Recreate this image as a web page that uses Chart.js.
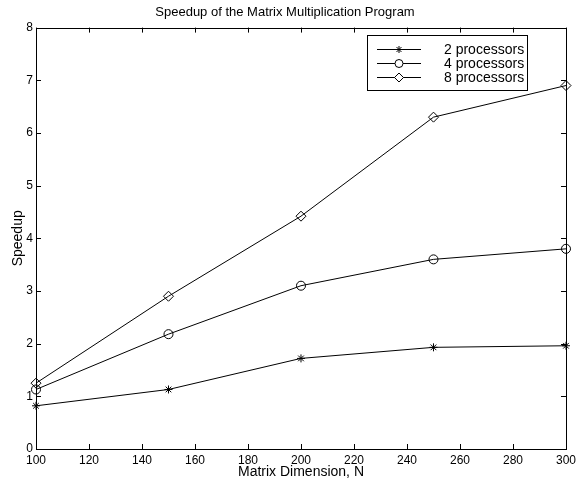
<!DOCTYPE html>
<html><head><meta charset="utf-8">
<script src="https://cdn.jsdelivr.net/npm/chart.js@4/dist/chart.umd.min.js"></script>
<style>html,body{margin:0;padding:0;background:#fff}#wrap{width:580px;height:483px}</style>
</head><body><div id="wrap"><canvas id="c" width="580" height="483"></canvas></div>
<script>
const dims = [100, 150, 200, 250, 300];
const speedup2 = [0.82, 1.13, 1.72, 1.93, 1.96];
const speedup4 = [1.13, 2.18, 3.10, 3.60, 3.80];
const speedup8 = [1.25, 2.90, 4.42, 6.30, 6.90];
const seriesLabels = ['2 processors', '4 processors', '8 processors'];
const xTicks = [100,120,140,160,180,200,220,240,260,280,300];
const yTicks = [0,1,2,3,4,5,6,7,8];
const FONT = "'Liberation Sans', Arial, Helvetica, sans-serif";

function pts(ys){ return dims.map((x,i)=>({x:x,y:ys[i]})); }
const styles = ['star','circle','rectRot'];
const radii = [4,4.5,5];

const boxPlugin = {
  id:'boxPlugin',
  afterDraw(chart){
    const ctx = chart.ctx, a = chart.chartArea;
    const xs = chart.scales.x, ys = chart.scales.y;
    ctx.save();
    ctx.strokeStyle = '#000'; ctx.lineWidth = 1;
    ctx.strokeRect(Math.round(a.left)+0.5, Math.round(a.top)+0.5, Math.round(a.right-a.left), Math.round(a.bottom-a.top));
    const L = 5;
    ctx.beginPath();
    xTicks.forEach(v=>{
      const px = Math.round(xs.getPixelForValue(v))+0.5;
      ctx.moveTo(px, a.bottom); ctx.lineTo(px, a.bottom-L);
      ctx.moveTo(px, a.top); ctx.lineTo(px, a.top+L);
    });
    yTicks.forEach(v=>{
      const py = Math.round(ys.getPixelForValue(v))+0.5;
      ctx.moveTo(a.left, py); ctx.lineTo(a.left+L, py);
      ctx.moveTo(a.right, py); ctx.lineTo(a.right-L, py);
    });
    ctx.stroke();
    // legend
    const bx = 367.5, by = 35.5, bw = 160, bh = 55;
    ctx.fillStyle = '#fff';
    ctx.fillRect(bx, by, bw, bh);
    ctx.strokeRect(bx, by, bw, bh);
    ctx.font = '14px ' + FONT;
    ctx.textBaseline = 'middle';
    ctx.textAlign = 'left';
    seriesLabels.forEach((lab,i)=>{
      const y = 49 + i*14 + 0.5;
      ctx.beginPath(); ctx.moveTo(377, y); ctx.lineTo(421, y); ctx.stroke();
      Chart.helpers.drawPoint(ctx, {pointStyle: styles[i], radius: radii[i]-0.5, borderWidth:1}, 399, y);
      ctx.fillStyle = '#000';
      ctx.fillText(lab, 444, y+1);
      ctx.fillStyle = '#fff';
    });
    ctx.restore();
  }
};

new Chart(document.getElementById('c'), {
  type:'scatter',
  data:{ datasets: [speedup2, speedup4, speedup8].map((d,i)=>({
    label: seriesLabels[i], data: pts(d), showLine:true,
    borderColor:'#000', borderWidth:1, backgroundColor:'rgba(0,0,0,0)',
    pointStyle: styles[i], pointRadius: radii[i], pointBorderColor:'#000', pointBorderWidth:1,
    pointBackgroundColor:'rgba(0,0,0,0)', tension:0, clip:false
  }))},
  options:{
    responsive:false, animation:false, devicePixelRatio:1,
    layout:{padding:{top:0,right:10,left:0,bottom:0}},
    plugins:{
      legend:{display:false}, tooltip:{enabled:false},
      title:{display:true, text:'Speedup of the Matrix Multiplication Program', color:'#000',
        font:{family:FONT, size:13, weight:'normal'}, padding:{top:5,bottom:7}}
    },
    scales:{
      x:{type:'linear', min:100, max:300,
        afterBuildTicks(s){ s.ticks = xTicks.map(v=>({value:v})); },
        afterFit(s){ s.height = 34; },
        grid:{display:false, drawTicks:false}, border:{display:false},
        ticks:{color:'#000', font:{family:FONT,size:12}, padding:4, maxRotation:0, autoSkip:false},
        title:{display:true, text:'Matrix Dimension, N', color:'#000', font:{family:FONT,size:14}, padding:{top:0,bottom:2}}
      },
      y:{type:'linear', min:0, max:8,
        afterBuildTicks(s){ s.ticks = yTicks.map(v=>({value:v})); },
        afterFit(s){ s.width = 36; },
        grid:{display:false, drawTicks:false}, border:{display:false},
        ticks:{color:'#000', font:{family:FONT,size:12}, padding:3},
        title:{display:true, text:'Speedup', color:'#000', font:{family:FONT,size:14}, padding:{top:10,bottom:0}}
      }
    }
  },
  plugins:[boxPlugin]
});
</script></body></html>
